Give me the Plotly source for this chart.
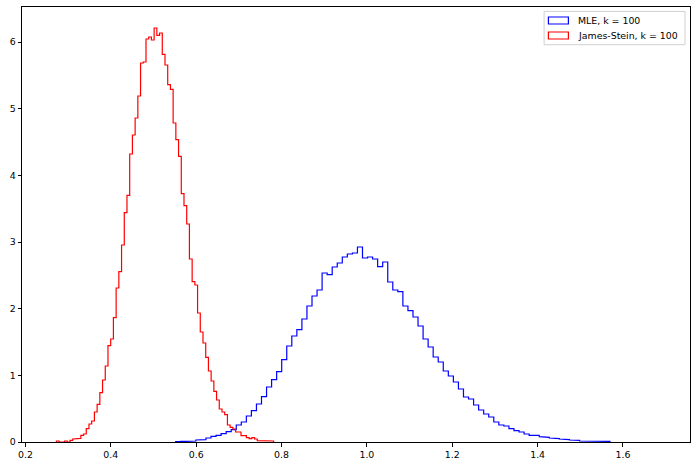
import numpy as np
import plotly.graph_objects as go

# Step-histogram densities
mle_start = 0.552
mle_width = 0.01183
mle_density = [0.005, 0.01, 0.01, 0.015, 0.03, 0.035, 0.06, 0.085, 0.1, 0.125, 0.155, 0.185,
               0.255, 0.30, 0.39, 0.47, 0.57, 0.68, 0.825, 0.935, 1.055, 1.235, 1.44,
               1.59, 1.685, 1.845, 2.04, 2.19, 2.28, 2.535, 2.51, 2.625, 2.685, 2.775, 2.82,
               2.835, 2.925, 2.76, 2.775, 2.745, 2.63, 2.70, 2.40, 2.28, 2.255,
               2.04, 1.97, 1.875, 1.74, 1.545, 1.425, 1.275, 1.20, 1.065, 0.99, 0.90, 0.795,
               0.675, 0.645, 0.555, 0.48, 0.42, 0.375, 0.30, 0.255, 0.24, 0.20,
               0.17, 0.15, 0.12, 0.10, 0.10, 0.08, 0.07, 0.06, 0.05, 0.045, 0.035, 0.03,
               0.025, 0.015, 0.015, 0.01, 0.015, 0.01, 0.01]

js_start = 0.2726
js_width = 0.00636
js_density = [0.015, 0, 0, 0.015, 0, 0.025, 0.045, 0.045, 0.055, 0.1, 0.12, 0.2, 0.27, 0.315,
              0.45, 0.565, 0.74, 0.93, 1.14, 1.445, 1.545, 1.865, 2.31, 2.555, 2.955, 3.44, 3.70,
              4.32, 4.605, 4.86, 5.19, 5.685, 5.70, 6.045, 6.075, 6.03, 6.21, 6.10, 6.135, 5.815,
              5.655, 5.36, 5.29, 4.785, 4.535, 4.285, 3.725, 3.545,
              3.27, 2.745, 2.405, 2.355, 1.935, 1.65, 1.485, 1.27, 1.065, 0.915, 0.76, 0.63,
              0.495, 0.45, 0.41, 0.255, 0.22, 0.195, 0.15, 0.15, 0.095, 0.095, 0.065, 0.05,
              0.065, 0.045, 0.02, 0.015, 0.02, 0.015, 0.015, 0.015]

labels = ["MLE, k = 100", "James-Stein, k = 100"]
colors = ["blue", "red"]

x_ticks = [0.2, 0.4, 0.6, 0.8, 1.0, 1.2, 1.4, 1.6]
y_ticks = [0, 1, 2, 3, 4, 5, 6]

W, H = 697, 466
ML, MR, MT, MB = 21.5, 7, 7.3, 23.7
FONT = dict(family="DejaVu Sans", size=9.4, color="black")


def step_outline(start, width, dens):
    n = len(dens)
    edges = start + width * np.arange(n + 1)
    xs = [edges[0]]
    ys = [0.0]
    for i in range(n):
        xs += [edges[i], edges[i + 1]]
        ys += [dens[i], dens[i]]
    xs.append(edges[-1])
    ys.append(0.0)
    return xs, ys


def px(xp):
    return (xp - ML) / (W - ML - MR)


def py(yp):
    return (H - MB - yp) / (H - MT - MB)


fig = go.Figure()
for (start, width, dens), name, col in zip(
        [(mle_start, mle_width, mle_density), (js_start, js_width, js_density)], labels, colors):
    xs, ys = step_outline(start, width, dens)
    fig.add_trace(go.Scatter(
        x=xs, y=ys, mode="lines", name=name,
        line=dict(color=col, width=1.2),
        hoverinfo="skip", showlegend=False,
    ))

# Matplotlib-style legend (outlined patches)
shapes = [dict(type="rect", xref="paper", yref="paper",
               x0=px(544), x1=px(685), y0=py(45), y1=py(11.7),
               line=dict(color="#d0d0d0", width=1), fillcolor="rgba(255,255,255,0.8)", layer="above")]
annotations = []
for i, (name, col) in enumerate(zip(labels, colors)):
    top = 17.3 + 15 * i
    shapes.append(dict(type="rect", xref="paper", yref="paper",
                       x0=px(548.3), x1=px(568.3), y0=py(top + 7), y1=py(top),
                       line=dict(color=col, width=1.2), fillcolor="rgba(0,0,0,0)", layer="above"))
    annotations.append(dict(xref="paper", yref="paper", x=px(576.0), y=py(top + 3.5),
                            xanchor="left", yanchor="middle", text=name, showarrow=False,
                            font=FONT))

axis_common = dict(
    showline=True, linecolor="black", linewidth=1, mirror=True,
    ticks="outside", ticklen=3.5, tickwidth=1, tickcolor="black",
    showgrid=False, zeroline=False, automargin=False,
    tickfont=FONT,
)

fig.update_layout(
    width=W, height=H,
    margin=dict(l=ML, r=MR, t=MT, b=MB, pad=0),
    paper_bgcolor="white", plot_bgcolor="white",
    font=FONT,
    showlegend=False,
    hovermode=False,
    shapes=shapes,
    annotations=annotations,
    xaxis=dict(range=[0.192, 1.757], tickvals=x_ticks, tickformat=".1f", **axis_common),
    yaxis=dict(range=[0, 6.525], tickvals=y_ticks, **axis_common),
)

fig.write_html("out.html",
               config={"displayModeBar": False},
               post_script="document.body.style.margin='0';document.body.style.padding='0';")
